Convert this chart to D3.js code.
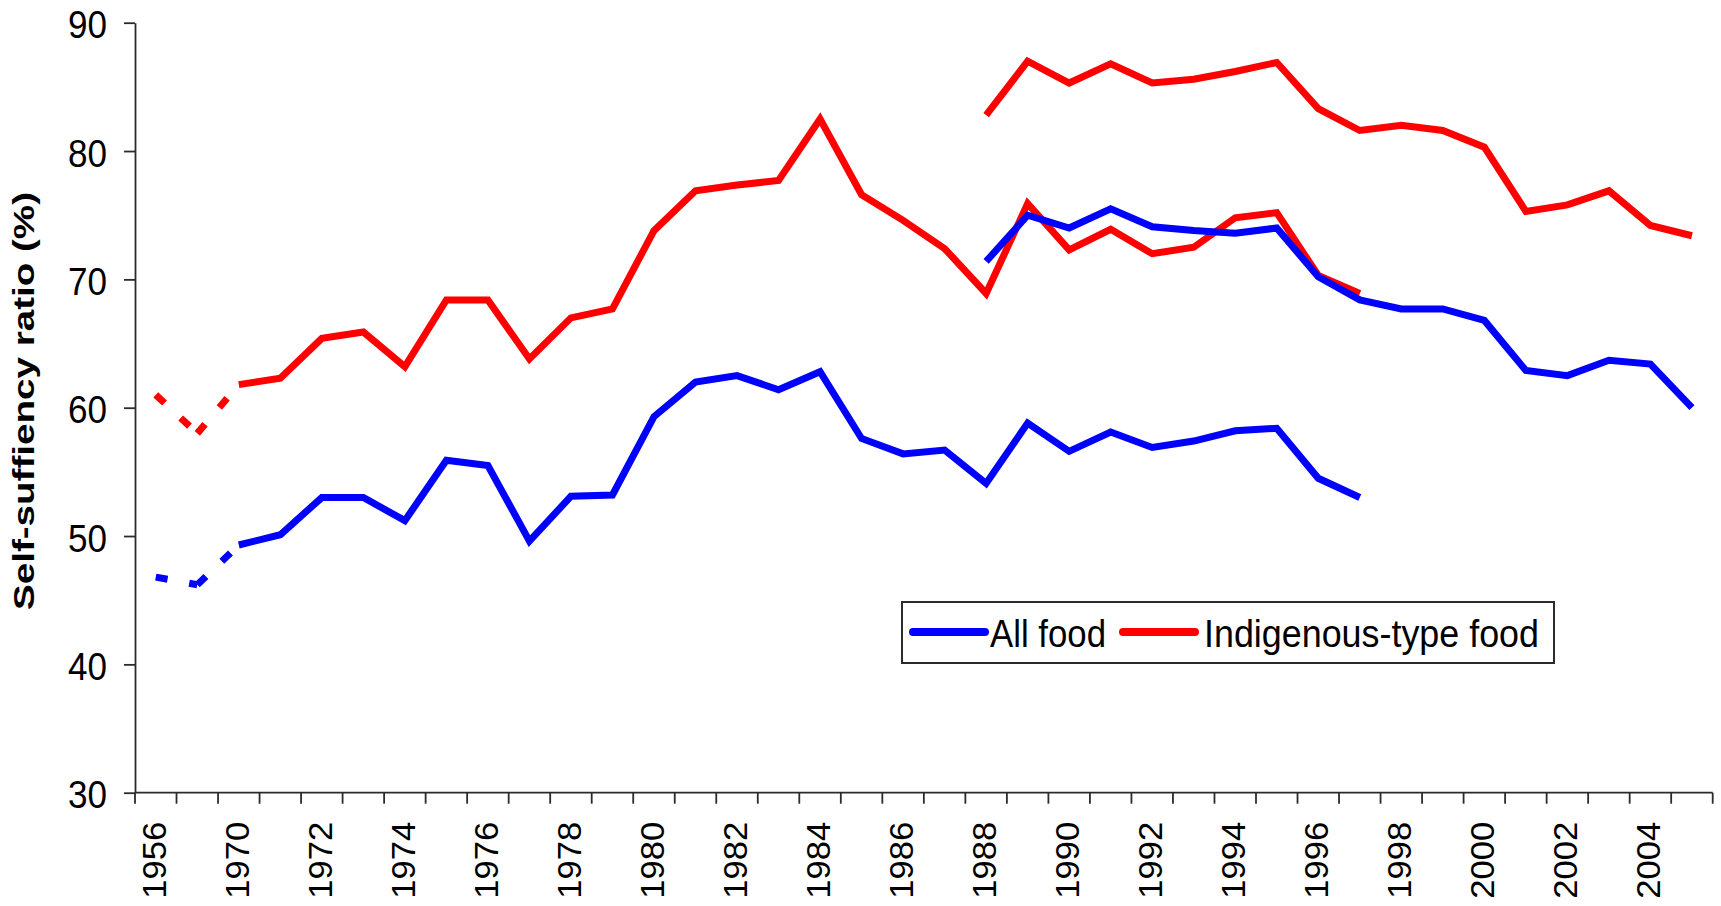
<!DOCTYPE html>
<html>
<head>
<meta charset="utf-8">
<script src="https://cdn.jsdelivr.net/npm/d3@7"></script>
<style>
  html, body { margin: 0; padding: 0; background: #fff; }
  svg { display: block; font-family: "Liberation Sans", Arial, sans-serif; }
</style>
</head>
<body>
<svg id="chart" width="1721" height="906"></svg>
<script>
// ---------------- DATA ----------------
const categories = ["1956","1960","1970","1971","1972","1973","1974","1975","1976","1977",
  "1978","1979","1980","1981","1982","1983","1984","1985","1986","1987","1988","1989",
  "1990","1991","1992","1993","1994","1995","1996","1997","1998","1999","2000","2001",
  "2002","2003","2004","2005"];

// Older statistical basis, 1956 - 1997
const allFoodOld = [46.8, 46.2, 49.3, 50.1, 53.0, 53.0, 51.2, 55.9, 55.5, 49.6,
  53.1, 53.2, 59.3, 62.0, 62.5, 61.4, 62.8, 57.6, 56.4, 56.7, 54.1, 58.8,
  56.6, 58.1, 56.9, 57.4, 58.2, 58.4, 54.5, 53.0];
const indigenousOld = [61.0, 58.0, 61.8, 62.3, 65.4, 65.9, 63.2, 68.4, 68.4, 63.8,
  67.0, 67.7, 73.8, 76.9, 77.35, 77.7, 82.5, 76.6, 74.6, 72.4, 68.9, 75.9,
  72.3, 73.9, 72.0, 72.5, 74.8, 75.2, 70.3, 68.9];
// Newer statistical basis, 1988 - 2005
const newStartYear = "1988";
const allFoodNew = [71.4, 75.0, 74.0, 75.5, 74.1, 73.8, 73.6, 74.0, 70.2, 68.4,
  67.7, 67.7, 66.8, 62.9, 62.5, 63.7, 63.4, 60.0];
const indigenousNew = [82.8, 87.0, 85.3, 86.8, 85.3, 85.6, 86.2, 86.9, 83.3, 81.6,
  82.0, 81.6, 80.3, 75.3, 75.8, 76.9, 74.2, 73.4];
// first three points of the older series are joined by a dotted line
const dottedUntil = "1970";

const yTicks = [30, 40, 50, 60, 70, 80, 90];
const yTitle = "Self-suffiency ratio (%)";
const legendLabels = ["All food", "Indigenous-type food"];
const seriesColors = { all: "#0000ff", indigenous: "#ff0000" };

(function () {
// ---------------- LAYOUT ----------------
const svg = d3.select("#chart");
const pLeft = 135, pRight = 1712.7, pTop = 22.7, pBottom = 792.7;

const x = d3.scaleBand().domain(categories).range([pLeft, pRight]).padding(0);
const y = d3.scaleLinear().domain([30, 90]).range([pBottom, pTop]);
const cx = c => x(c) + x.bandwidth() / 2;

function toPoints(values, startCat) {
  const s = categories.indexOf(startCat);
  return values.map((v, i) => ({ c: categories[s + i], v }));
}

const line = d3.line().x(d => cx(d.c)).y(d => y(d.v));
const axisColor = "#2b2b2b";

// ---------------- AXES ----------------
const yAxis = d3.axisLeft(y).tickValues(yTicks).tickSize(11).tickSizeOuter(0).tickFormat(d3.format("d"));
const gy = svg.append("g").attr("transform", `translate(${pLeft},0)`).call(yAxis);
gy.select(".domain").attr("stroke", axisColor).attr("stroke-width", 1.8);
gy.selectAll(".tick line").attr("stroke", axisColor).attr("stroke-width", 1.8);
gy.selectAll(".tick text")
  .attr("x", -28).attr("dy", null).attr("y", 15)
  .attr("fill", "#000")
  .attr("font-size", 38)
  .attr("textLength", 39).attr("lengthAdjust", "spacingAndGlyphs")
  .attr("font-family", "'Liberation Sans', Arial, sans-serif");

// x axis line
svg.append("line")
  .attr("x1", pLeft).attr("x2", pRight)
  .attr("y1", y(30)).attr("y2", y(30))
  .attr("stroke", axisColor).attr("stroke-width", 1.8);

// x ticks at category boundaries
const boundaries = categories.map(c => x(c)).concat([x(categories[categories.length - 1]) + x.bandwidth()]);
svg.append("g").selectAll("line").data(boundaries).join("line")
  .attr("x1", d => d).attr("x2", d => d)
  .attr("y1", y(30)).attr("y2", y(30) + 11)
  .attr("stroke", axisColor).attr("stroke-width", 1.8);

// x labels (every second category)
svg.append("g").selectAll("text")
  .data(categories.filter((c, i) => i % 2 === 0))
  .join("text")
  .attr("transform", d => `translate(${cx(d) + 10},${y(30) + 29}) rotate(-90)`)
  .attr("text-anchor", "end")
  .attr("font-size", 33)
  .attr("textLength", 77).attr("lengthAdjust", "spacingAndGlyphs")
  .attr("fill", "#000")
  .text(d => d);

// y title
svg.append("text")
  .attr("transform", `translate(34,401) rotate(-90)`)
  .attr("text-anchor", "middle")
  .attr("font-size", 29)
  .attr("font-weight", "bold")
  .attr("textLength", 418).attr("lengthAdjust", "spacingAndGlyphs")
  .attr("fill", "#000")
  .text(yTitle);

// ---------------- LINES ----------------
function drawSeries(values, startCat, color, hasDotted) {
  const pts = toPoints(values, startCat);
  const g = svg.append("g");
  if (hasDotted) {
    const di = pts.findIndex(p => p.c === dottedUntil);
    // each dotted segment drawn on its own, Excel-like dash pattern
    for (let k = 0; k < di; k++) {
      g.append("path").datum(pts.slice(k, k + 2))
        .attr("d", line).attr("fill", "none")
        .attr("stroke", color).attr("stroke-width", 7)
        .attr("stroke-dasharray", "12,22");
    }
    g.append("path").datum(pts.slice(di))
      .attr("d", line).attr("fill", "none")
      .attr("stroke", color).attr("stroke-width", 7)
      .attr("stroke-linejoin", "miter").attr("stroke-miterlimit", 6);
  } else {
    g.append("path").datum(pts)
      .attr("d", line).attr("fill", "none")
      .attr("stroke", color).attr("stroke-width", 7)
      .attr("stroke-linejoin", "miter").attr("stroke-miterlimit", 6);
  }
}

drawSeries(allFoodOld, categories[0], seriesColors.all, true);
drawSeries(indigenousOld, categories[0], seriesColors.indigenous, true);
drawSeries(allFoodNew, newStartYear, seriesColors.all, false);
drawSeries(indigenousNew, newStartYear, seriesColors.indigenous, false);

// ---------------- LEGEND ----------------
const lg = svg.append("g");
lg.append("rect")
  .attr("x", 902).attr("y", 602).attr("width", 652).attr("height", 61)
  .attr("fill", "#fff").attr("stroke", axisColor).attr("stroke-width", 2);
const legendItems = [
  { label: legendLabels[0], color: seriesColors.all, lx: 913, tx: 990, tl: 116 },
  { label: legendLabels[1], color: seriesColors.indigenous, lx: 1123, tx: 1204, tl: 335 }
];
legendItems.forEach(it => {
  lg.append("line")
    .attr("x1", it.lx).attr("x2", it.lx + 72)
    .attr("y1", 632).attr("y2", 632)
    .attr("stroke", it.color).attr("stroke-width", 8).attr("stroke-linecap", "round");
  lg.append("text")
    .attr("x", it.tx).attr("y", 647)
    .attr("font-size", 38)
    .attr("textLength", it.tl).attr("lengthAdjust", "spacingAndGlyphs")
    .attr("fill", "#000")
    .text(it.label);
});
})();
</script>
</body>
</html>
